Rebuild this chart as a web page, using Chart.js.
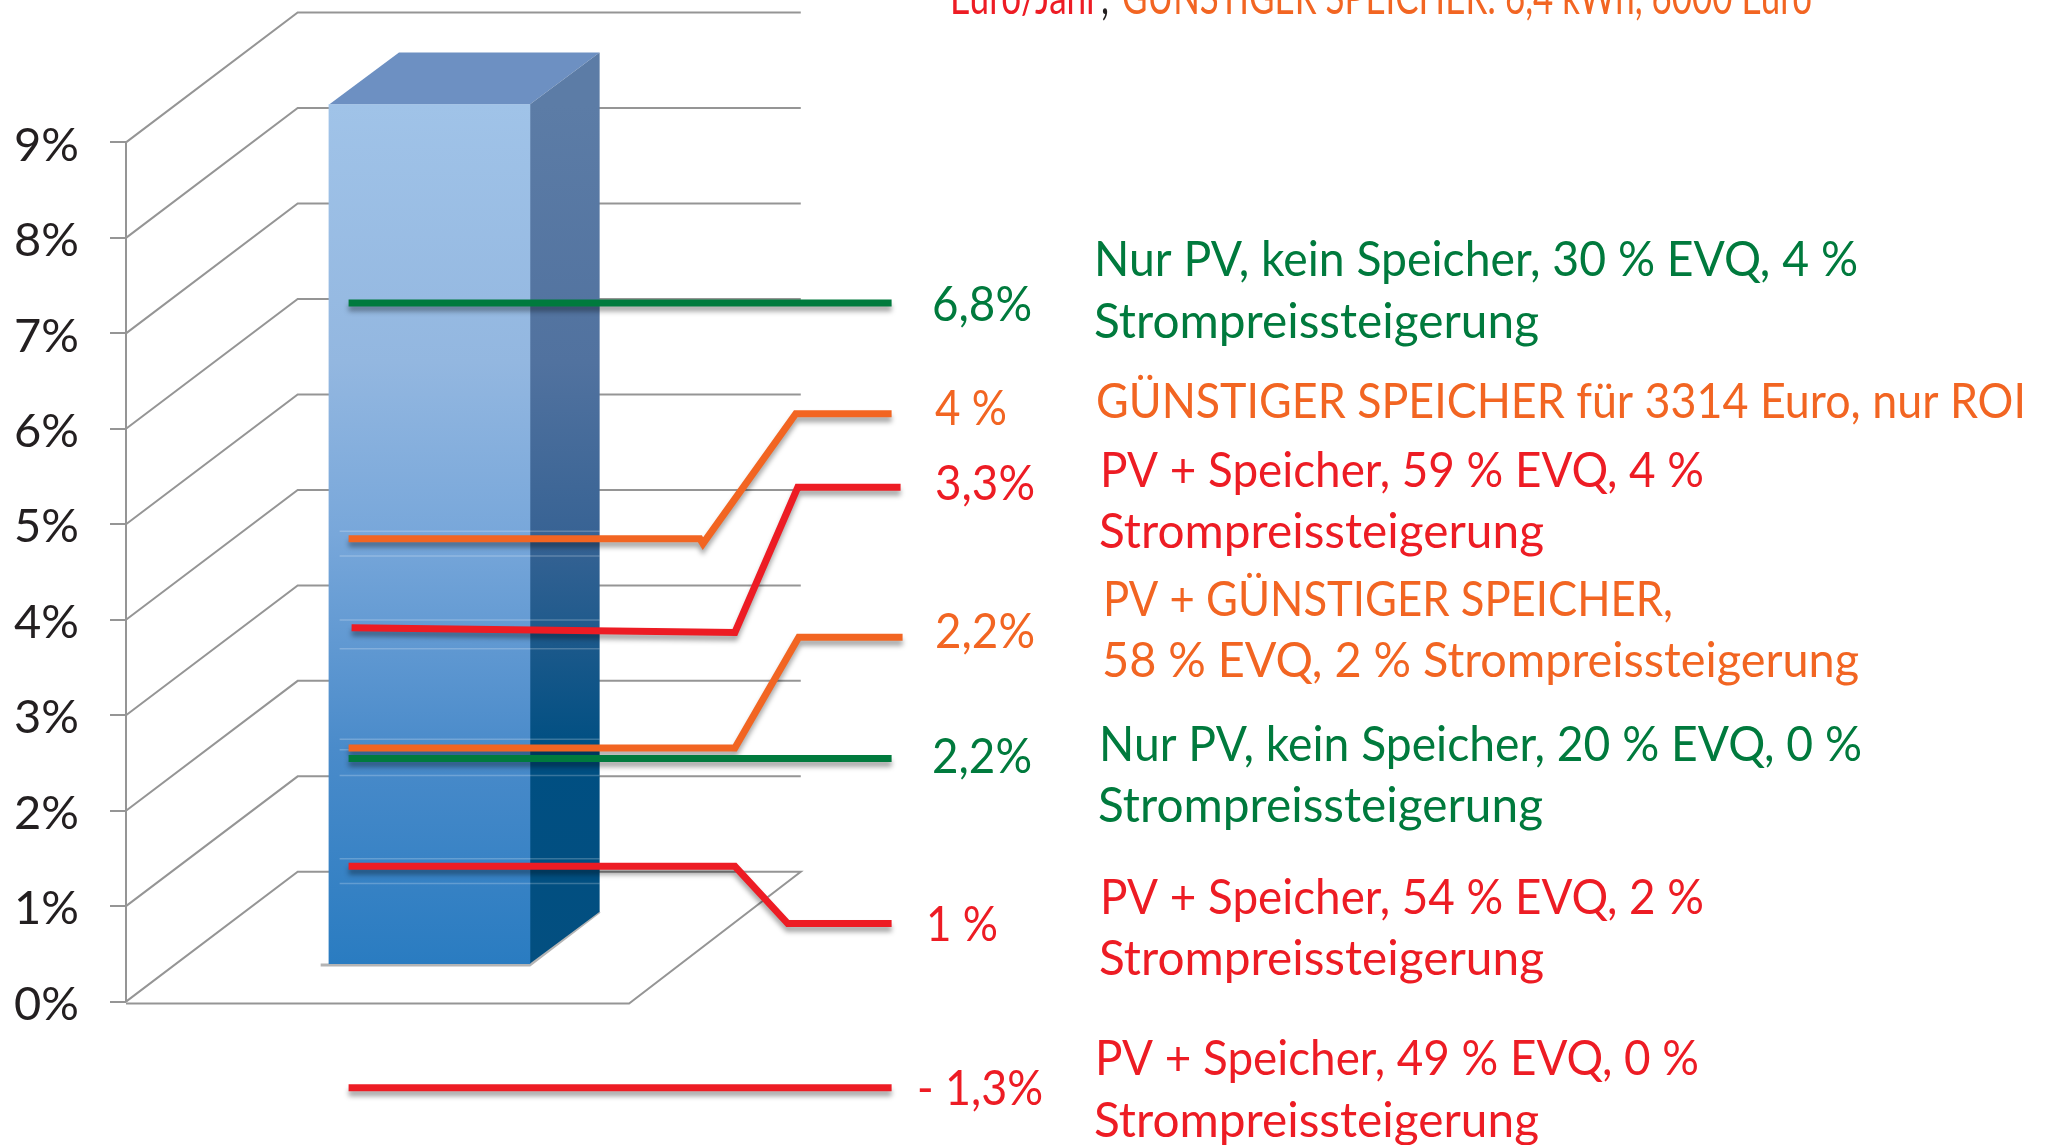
<!DOCTYPE html>
<html>
<head>
<meta charset="utf-8">
<style>
    body { margin: 0; background: #fff; }
    canvas { display: block; }
</style>
<script src="https://cdn.jsdelivr.net/npm/chart.js@4"></script>
</head>
<body>
<canvas id="chart" width="2047" height="1145"></canvas>
<script>
const yTicks = [0, 1, 2, 3, 4, 5, 6, 7, 8, 9];
const barValue = [9];

// leader lines, y values are read against the bar's own base
const greenTopX = [349, 893];
const greenTopY = [6.92, 6.92];
const orangeTopX = [349, 701, 704, 797, 893];
const orangeTopY = [4.45, 4.45, 4.40, 5.76, 5.76];
const redMidX = [352, 736, 799, 902];
const redMidY = [3.52, 3.47, 4.99, 4.99];
const orangeLowX = [349, 736, 800, 904];
const orangeLowY = [2.26, 2.26, 3.42, 3.42];
const greenLowX = [349, 893];
const greenLowY = [2.15, 2.15];
const redLowX = [349, 736, 789, 893];
const redLowY = [1.02, 1.02, 0.42, 0.42];
const redNegX = [349, 893];
const redNegY = [-1.30, -1.30];

// faint light edges on the bar next to the lines
const glintY = [4.53, 4.27, 3.60, 3.30, 2.35, 2.24, 1.97, 1.10, 0.84];

const GREEN = "#007a3d";
const ORANGE = "#f26522";
const RED = "#ed1c24";
const DARK = "#231f20";
const GRID = "#959595";
const FONT = "48px Lato";

const captions = [
    ["Euro/Jahr", 950, 14, RED, 149],
    [",", 1101, 14, DARK, 8],
    ["GÜNSTIGER SPEICHER: 6,4 kWh, 6000 Euro", 1122, 14, ORANGE, 690],
    ["Nur PV, kein Speicher, 30 % EVQ, 4 %", 1094, 276, GREEN, 764],
    ["Strompreissteigerung", 1094, 338, GREEN, 445],
    ["GÜNSTIGER SPEICHER für 3314 Euro, nur ROI", 1096, 418, ORANGE, 930],
    ["PV + Speicher, 59 % EVQ, 4 %", 1100, 487, RED, 604],
    ["Strompreissteigerung", 1099, 548, RED, 445],
    ["PV + GÜNSTIGER SPEICHER,", 1103, 616, ORANGE, 570],
    ["58 % EVQ, 2 % Strompreissteigerung", 1102, 677, ORANGE, 757],
    ["Nur PV, kein Speicher, 20 % EVQ, 0 %", 1099, 761, GREEN, 763],
    ["Strompreissteigerung", 1098, 822, GREEN, 445],
    ["PV + Speicher, 54 % EVQ, 2 %", 1100, 914, RED, 604],
    ["Strompreissteigerung", 1099, 975, RED, 445],
    ["PV + Speicher, 49 % EVQ, 0 %", 1095, 1075, RED, 604],
    ["Strompreissteigerung", 1094, 1137, RED, 445],
    ["6,8%", 932, 321, GREEN, 100],
    ["4 %", 935, 425, ORANGE, 72],
    ["3,3%", 935, 500, RED, 100],
    ["2,2%", 935, 648, ORANGE, 100],
    ["2,2%", 932, 773, GREEN, 100],
    ["1 %", 926, 941, RED, 72],
    ["- 1,3%", 917, 1105, RED, 126]
];

// 3D layout of the drawing
const wallX = 126, wallBackX = 298, wallRightX = 802, floorFrontRightX = 630;
const wallRise = 1.36;
const barLeft = 329.5, barRight = 530.5, barDepthX = 70, barDepthY = 0.545;

function points(xs, ys) {
    return xs.map((x, i) => ({ x: x, y: ys[i] }));
}

function leader(xs, ys, color) {
    return {
        type: "scatter", data: points(xs, ys), showLine: true, borderColor: color,
        borderWidth: 7, pointRadius: 0, borderJoinStyle: "miter", clip: false,
        order: 1, castShadow: true, xAxisID: "x", yAxisID: "yBar"
    };
}

function wallLine(data) {
    return {
        type: "scatter", data: data, showLine: true, borderColor: GRID, borderWidth: 2,
        pointRadius: 0, clip: false, order: 10, xAxisID: "x", yAxisID: "y"
    };
}

function face(data, color, order) {
    return {
        type: "scatter", data: data, showLine: true, fill: "shape", borderWidth: 0,
        borderColor: "transparent", backgroundColor: color, pointRadius: 0, clip: false,
        order: order, xAxisID: "x", yAxisID: "yBar"
    };
}

function barGradient(c, stops, flat) {
    const s = c.chart.scales.yBar;
    const y0 = s ? s.getPixelForValue(barValue[0]) : NaN;
    const y1 = s ? s.getPixelForValue(0) : NaN;
    if (!isFinite(y0) || !isFinite(y1)) return flat;
    const g = c.chart.ctx.createLinearGradient(0, y0, 0, y1);
    stops.forEach(st => g.addColorStop(st[0], st[1]));
    return g;
}

const frontStops = [[0, "#a0c3e8"], [0.3, "#93b7e0"], [0.5, "#78a7da"], [0.75, "#4a8bca"], [1, "#2a7cc1"]];
const sideStops = [[0, "#5c7ca6"], [0.3, "#51729f"], [0.5, "#386394"], [0.75, "#004f82"], [1, "#034f80"]];

const top0 = barValue[0];
const barX = (barLeft + barRight) / 2;
const datasets = [
    leader(greenTopX, greenTopY, GREEN),
    leader(redMidX, redMidY, RED),
    leader(orangeTopX, orangeTopY, ORANGE),
    leader(greenLowX, greenLowY, GREEN),
    leader(orangeLowX, orangeLowY, ORANGE),
    leader(redLowX, redLowY, RED),
    leader(redNegX, redNegY, RED)
];

glintY.forEach(v => {
    datasets.push({
        type: "scatter", data: points([340, barRight + barDepthX], [v, v]), showLine: true,
        borderColor: "rgba(255,255,255,0.22)", borderWidth: 1.5, pointRadius: 0,
        order: 3, xAxisID: "x", yAxisID: "yBar"
    });
});

datasets.push({
    type: "bar", data: [{ x: barX, y: barValue[0] }],
    backgroundColor: c => barGradient(c, frontStops, "#6fa3d8"),
    barThickness: barRight - barLeft, order: 4, xAxisID: "x", yAxisID: "yBar"
});
datasets.push(face(points(
    [barRight, barRight + barDepthX, barRight + barDepthX, barRight],
    [top0, top0 + barDepthY, barDepthY, 0]), c => barGradient(c, sideStops, "#3c6592"), 5));
datasets.push(face(points(
    [barLeft, barLeft + barDepthX, barRight + barDepthX, barRight],
    [top0, top0 + barDepthY, top0 + barDepthY, top0]), "#6d90c2", 5));
datasets.push({
    type: "scatter", data: points([321, barRight, barRight + barDepthX], [-0.015, -0.015, barDepthY]),
    showLine: true, borderColor: "rgba(130,130,130,0.6)", borderWidth: 3, pointRadius: 0,
    clip: false, order: 6, xAxisID: "x", yAxisID: "yBar"
});

// back wall and floor
yTicks.slice(1).forEach(v => {
    datasets.push(wallLine(points([wallX, wallBackX, wallRightX], [v, v + wallRise, v + wallRise])));
});
datasets.push(wallLine(points(
    [wallX, wallBackX, wallRightX, floorFrontRightX, wallX],
    [0, wallRise, wallRise, -0.02, -0.02])));
datasets.push(wallLine(points([wallX, wallX], [0, yTicks[yTicks.length - 1]])));

const lineShadow = {
    id: "lineShadow",
    beforeDatasetDraw(chart, args) {
        if (!args.meta._dataset.castShadow) return;
        const ctx = chart.ctx;
        ctx.save();
        ctx.shadowColor = "rgba(0,0,0,0.35)";
        ctx.shadowOffsetY = 5;
        ctx.shadowBlur = 5;
    },
    afterDatasetDraw(chart, args) {
        if (args.meta._dataset.castShadow) chart.ctx.restore();
    }
};

const captionText = {
    id: "captionText",
    afterDraw(chart) {
        const ctx = chart.ctx;
        ctx.save();
        ctx.font = FONT;
        ctx.textAlign = "left";
        ctx.textBaseline = "alphabetic";
        captions.forEach(c => {
            ctx.fillStyle = c[3];
            ctx.fillText(c[0], c[1], c[2], c[4]);
        });
        ctx.restore();
    }
};

const chart = new Chart(document.getElementById("chart"), {
    type: "scatter",
    data: { datasets: datasets },
    plugins: [lineShadow, captionText],
    options: {
        responsive: false,
        animation: false,
        layout: { padding: 0 },
        plugins: { legend: { display: false }, title: { display: false }, tooltip: { enabled: false } },
        scales: {
            x: { type: "linear", min: wallX, max: 2047, offset: false, display: false, grid: { display: false } },
            y: {
                type: "linear",
                min: -1.465,
                max: 10.455,
                afterFit: s => { s.width = wallX; s.paddingTop = 0; s.paddingBottom = 0; },
                afterBuildTicks: s => { s.ticks = yTicks.map(v => ({ value: v })); },
                border: { display: false },
                grid: { drawOnChartArea: false, drawTicks: true, tickLength: 16, color: GRID, lineWidth: 2 },
                ticks: {
                    autoSkip: false, padding: 31, labelOffset: 3, color: DARK, font: { family: "Lato", size: 47 },
                    callback: v => v + "%"
                }
            },
            yBar: { type: "linear", min: -1.863, max: 10.058, display: false, grid: { display: false } }
        }
    }
});
chart.update();
</script>
</body>
</html>
